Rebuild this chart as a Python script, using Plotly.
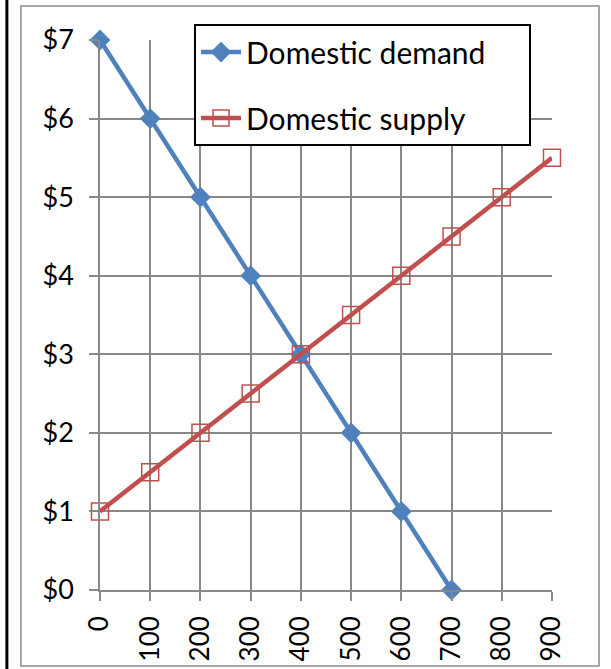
"""Domestic demand and supply chart."""

import plotly.graph_objects as go

quantity = [0, 100, 200, 300, 400, 500, 600, 700, 800, 900]
demand_price = [7, 6, 5, 4, 3, 2, 1, 0]
supply_price = [1, 1.5, 2, 2.5, 3, 3.5, 4, 4.5, 5, 5.5]
y_ticks = [0, 1, 2, 3, 4, 5, 6, 7]
y_labels = [f"${v}" for v in y_ticks]

_BLUE = "#4F81BD"
_RED = "#C0504D"
_GRID = "#888888"
_FONT = "Lato, Liberation Sans, sans-serif"
_PAD = "\u00a0" * 5  # widens the legend box to the original's size

fig = go.Figure()
fig.add_trace(
    go.Scatter(
        x=quantity[: len(demand_price)],
        y=demand_price,
        name="Domestic demand" + _PAD,
        legendgroup="d",
        mode="lines+markers",
        line={"color": _BLUE, "width": 4.5},
        marker={"symbol": "diamond", "size": 16, "color": _BLUE},
        cliponaxis=False,
    )
)
fig.add_trace(
    go.Scatter(
        x=quantity,
        y=supply_price,
        name="Domestic supply",
        legendgroup="s",
        mode="lines+markers",
        line={"color": _RED, "width": 4.5},
        marker={
            "symbol": "square-open",
            "size": 17,
            "color": _RED,
            "line": {"width": 1.5, "color": _RED},
        },
        cliponaxis=False,
    )
)

axis_style = {
    "showgrid": True,
    "gridcolor": _GRID,
    "gridwidth": 1.5,
    "showline": True,
    "linecolor": _GRID,
    "linewidth": 1.5,
    "ticks": "outside",
    "ticklen": 9,
    "tickcolor": _GRID,
    "tickwidth": 1.5,
    "zeroline": False,
    "fixedrange": True,
    "automargin": False,
}

fig.update_layout(
    width=611,
    height=669,
    paper_bgcolor="white",
    plot_bgcolor="white",
    font={"family": _FONT, "color": "black", "size": 27},
    margin={"l": 100, "r": 59, "t": 40, "b": 79},
    showlegend=True,
    legend={
        "x": 0.208,
        "y": 1.029,
        "xanchor": "left",
        "yanchor": "top",
        "bordercolor": "black",
        "borderwidth": 2,
        "bgcolor": "white",
        "font": {"size": 30},
        "tracegroupgap": 24,
        "itemwidth": 40,
    },
    xaxis={
        **axis_style,
        "range": [0, 900],
        "tickvals": quantity,
        "ticktext": [str(q) for q in quantity],
        "tickangle": -90,
        "tickfont": {"size": 26},
        "ticklabelstandoff": 5,
    },
    yaxis={
        **axis_style,
        "range": [0, 7],
        "tickvals": y_ticks,
        "ticktext": y_labels,
        "ticklabelstandoff": 10,
    },
    shapes=[
        {
            "type": "rect",
            "xref": "paper",
            "yref": "paper",
            "x0": -0.175,
            "x1": 1.104,
            "y0": -0.138,
            "y1": 1.062,
            "line": {"color": "#8c8c8c", "width": 1.5},
            "layer": "below",
        },
        {
            "type": "line",
            "xref": "paper",
            "yref": "paper",
            "x0": -0.206,
            "x1": -0.206,
            "y0": -0.2,
            "y1": 1.2,
            "line": {"color": "black", "width": 3},
        },
    ],
)

fig.write_html(
    "out.html",
    config={"displayModeBar": False},
    post_script="document.body.style.margin='0';",
)
